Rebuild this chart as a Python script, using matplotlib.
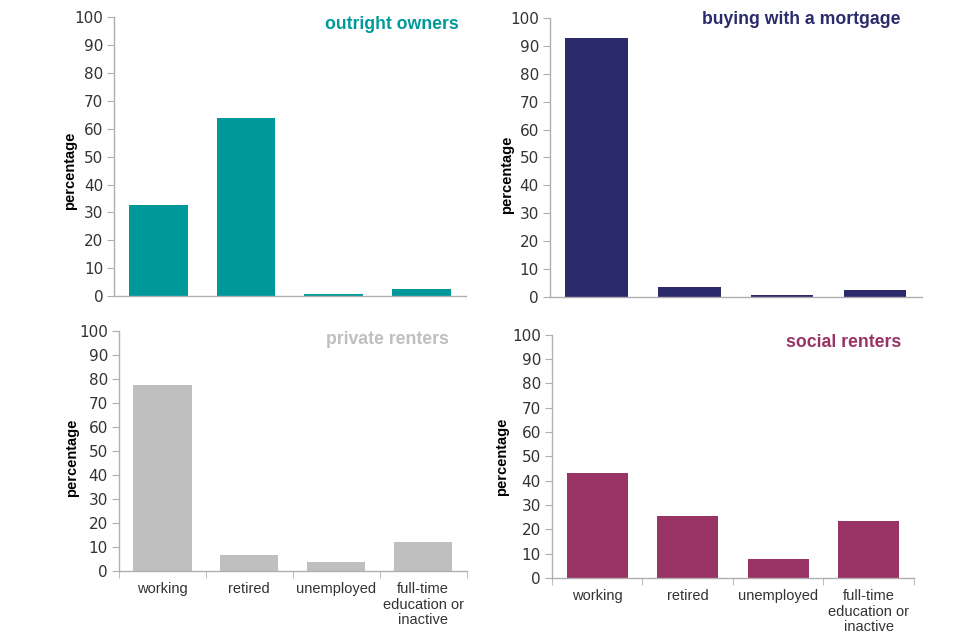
import numpy as np
import matplotlib.pyplot as plt

plt.rcParams['font.family'] = ['Liberation Sans', 'DejaVu Sans']

categories = ["working", "retired", "unemployed", "full-time\neducation or\ninactive"]

outright = [32.8, 63.7, 0.7, 2.6]
mortgage = [92.8, 3.4, 0.8, 2.5]
private = [77.3, 6.7, 3.6, 11.9]
social = [43.2, 25.5, 7.8, 23.2]

# title, values, colour, axes rect, show x labels, title pos, ylabel pos
panels = [
    ("outright owners", outright, "#009999", [0.119, 0.5375, 0.366, 0.4355], False,
     (0.980, 0.975), (-0.105, 0.45)),
    ("buying with a mortgage", mortgage, "#2B2B6B", [0.573, 0.536, 0.387, 0.436], False,
     (0.944, 0.993), (-0.097, 0.437)),
    ("private renters", private, "#BFBFBF", [0.124, 0.108, 0.362, 0.375], True,
     (0.948, 0.9625), (-0.115, 0.47)),
    ("social renters", social, "#993366", [0.575, 0.097, 0.377, 0.380], True,
     (0.964, 0.967), (-0.119, 0.50)),
]

fig = plt.figure(figsize=(9.6, 6.4), dpi=100)

for title, vals, col, pos, show_x, tpos, lpos in panels:
    ax = fig.add_axes(pos)
    x = np.arange(len(categories))
    ax.bar(x, vals, width=0.67, color=col)
    ax.set_xlim(-0.5, 3.5)
    ax.set_ylim(0, 100)
    ax.set_yticks(np.arange(0, 101, 10))
    for lab in ax.get_yticklabels():
        lab.set_family("DejaVu Sans")
    for s in ["top", "right"]:
        ax.spines[s].set_visible(False)
    for s in ["left", "bottom"]:
        ax.spines[s].set_color("#AFAFAF")
        ax.spines[s].set_linewidth(1)
    ax.tick_params(axis="y", direction="out", length=5, color="#AFAFAF",
                   labelsize=11, labelcolor="#333333", pad=3)
    if show_x:
        ax.set_xticks(x)
        ax.set_xticklabels(categories, fontsize=10.5, color="#333333", linespacing=1.15)
        ax.tick_params(axis="x", which="major", length=0, pad=8)
        ax.set_xticks(np.arange(-0.5, 4, 1), minor=True)
        ax.tick_params(axis="x", which="minor", direction="out", length=5, color="#AFAFAF")
    else:
        ax.set_xticks([])
    ax.set_ylabel("percentage", fontsize=10.5, fontweight="bold")
    ax.yaxis.set_label_coords(*lpos)
    ax.text(tpos[0], tpos[1], title, transform=ax.transAxes, ha="right", va="center",
            fontsize=12.7, fontweight="bold", color=col)

fig.savefig("out.png", dpi=100)
